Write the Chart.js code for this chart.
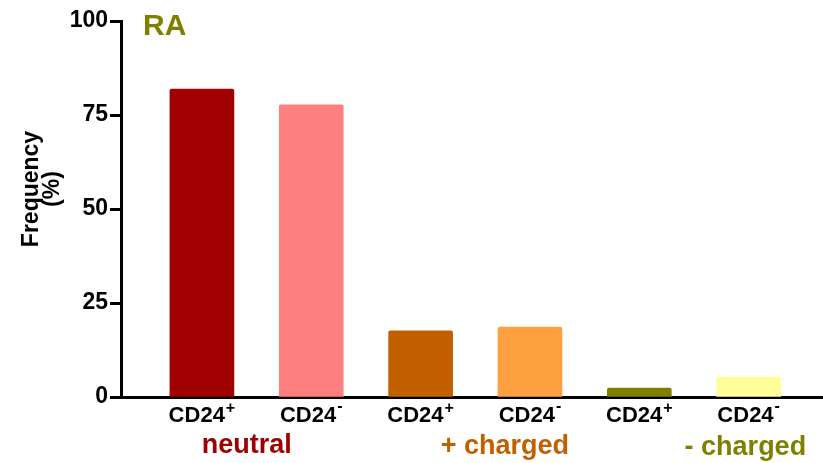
<!DOCTYPE html>
<html>
<head>
<meta charset="utf-8">
<script src="https://cdn.jsdelivr.net/npm/chart.js@4"></script>
<style>
html,body{margin:0;padding:0;background:#fff;}
#wrap{width:823px;height:463px;position:relative;}
</style>
</head>
<body>
<div id="wrap"><canvas id="c" width="823" height="463"></canvas></div>
<script>
const categories = ['CD24', 'CD24', 'CD24', 'CD24', 'CD24', 'CD24'];
const superscripts = ['+', '-', '+', '-', '+', '-'];
const frequency = [81.9, 77.7, 17.6, 18.6, 2.4, 5.3];
const barColors = ['#A00000', '#FF8080', '#C26000', '#FFA040', '#808000', '#FFFF99'];
const yTicks = [0, 25, 50, 75, 100];
const groups = ['neutral', '+ charged', '- charged'];
const groupColors = ['#A00000', '#C26000', '#808000'];
const groupPos = [0.41, 2.77, 4.97];
const FONT = '"Liberation Sans", Arial, sans-serif';

const labelsPlugin = {
  id: 'labels',
  afterDraw(chart) {
    const ctx = chart.ctx;
    const xs = chart.scales.x;
    ctx.save();
    ctx.fillStyle = '#000';
    ctx.textBaseline = 'alphabetic';
    // category labels with superscripts
    categories.forEach((c, i) => {
      const cx = xs.getPixelForValue(i);
      ctx.font = 'bold 22px ' + FONT;
      const w1 = ctx.measureText(c).width;
      ctx.font = 'bold 16px ' + FONT;
      const w2 = ctx.measureText(superscripts[i]).width;
      const start = cx - (w1 + w2 + 1) / 2;
      ctx.font = 'bold 22px ' + FONT;
      ctx.textAlign = 'left';
      ctx.fillText(c, start, 422);
      ctx.font = 'bold 16px ' + FONT;
      ctx.fillText(superscripts[i], start + w1 + 1, superscripts[i] === '+' ? 413 : 411);
    });
    // group labels
    ctx.font = 'bold 27px ' + FONT;
    ctx.textAlign = 'center';
    groups.forEach((g, i) => {
      ctx.fillStyle = groupColors[i];
      ctx.fillText(g, xs.getPixelForValue(groupPos[i]), 453 + i);
    });
    // title
    ctx.fillStyle = '#808000';
    ctx.font = 'bold 30px ' + FONT;
    ctx.textAlign = 'left';
    ctx.fillText('RA', 143, 35);
    // y axis title
    ctx.fillStyle = '#000';
    ctx.font = 'bold 23px ' + FONT;
    ctx.translate(38, 189);
    ctx.rotate(-Math.PI / 2);
    ctx.textAlign = 'center';
    ctx.fillText('Frequency', 0, 0);
    ctx.fillText('(%)', 0, 21);
    ctx.restore();
  }
};

new Chart(document.getElementById('c'), {
  type: 'bar',
  data: {
    datasets: [{
      data: frequency.map((v, i) => ({x: i, y: v})),
      backgroundColor: barColors,
      borderWidth: 0,
      borderRadius: 2,
      borderSkipped: 'bottom',
      barThickness: 64
    }]
  },
  options: {
    responsive: false,
    animation: false,
    events: [],
    layout: {padding: {top: 21, left: 0, right: 0, bottom: 0}},
    plugins: {legend: {display: false}, tooltip: {enabled: false}},
    scales: {
      x: {
        type: 'linear',
        offset: false,
        min: -0.74,
        max: 5.68,
        z: 1,
        ticks: {display: false},
        grid: {display: true, drawOnChartArea: false, drawTicks: false},
        border: {display: true, width: 3, color: '#000'},
        afterFit(s) { s.height = 66; s.paddingLeft = 0; s.paddingRight = 0; }
      },
      y: {
        min: 0,
        max: 100,
        z: 1,
        afterBuildTicks(s) { s.ticks = yTicks.map(v => ({value: v})); },
        ticks: {
          color: '#000',
          padding: 2,
          font: {family: FONT, size: 23, weight: 'bold'}
        },
        grid: {display: true, drawOnChartArea: false, drawTicks: true, tickLength: 11, tickWidth: 3, tickColor: '#000'},
        border: {display: true, width: 3, color: '#000'},
        afterFit(s) { s.width = 121; s.paddingTop = 0; s.paddingBottom = 0; }
      }
    }
  },
  plugins: [labelsPlugin]
});
</script>
</body>
</html>
